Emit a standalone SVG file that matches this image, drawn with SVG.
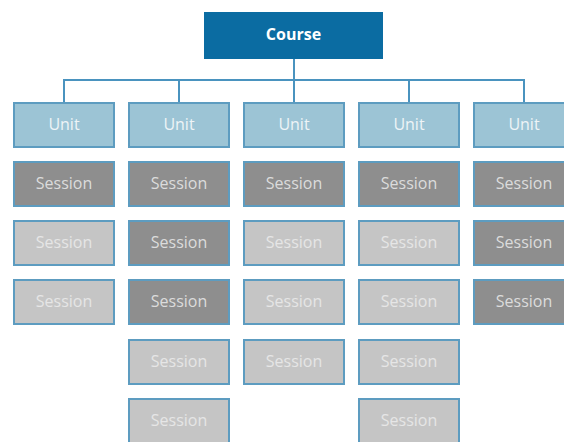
<svg xmlns="http://www.w3.org/2000/svg" width="564" height="442" viewBox="0 0 564 442">
<style>
  .box{stroke:#5d9cc0;stroke-width:2}
  .course{fill:#0b6ca2;stroke:#0b6ca2}
  .unit{fill:#9cc4d5}
  .dark{fill:#8e8e8e}
  .light{fill:#c5c5c5}
  text{font-family:"Open Sans","Liberation Sans",sans-serif;font-size:16px;text-anchor:middle;dominant-baseline:central}
  .ct{fill:#ffffff;font-weight:bold;font-size:16px}
  .ut{fill:#eef4f7}
  .dt{fill:#dcdcdc}
  .lt{fill:#e6e6e6}
  .conn{fill:none;stroke:#4a93bf;stroke-width:2}
</style>
<rect width="564" height="442" fill="#ffffff"/>
<g id="connectors">
  <path class="conn" d="M294 58V80M64 80H524M64 79V103M179 79V103M294 79V103M409 79V103M524 79V103"/>
</g>
<g id="course"><rect class="box course" x="205" y="13" width="177" height="45"/><text class="ct" x="293.5" y="34">Course</text></g>
<g id="unit1"><rect class="box unit" x="14" y="103" width="100" height="44"/><text class="ut" x="64" y="123.5">Unit</text></g>
<g id="unit2"><rect class="box unit" x="129" y="103" width="100" height="44"/><text class="ut" x="179" y="123.5">Unit</text></g>
<g id="unit3"><rect class="box unit" x="244" y="103" width="100" height="44"/><text class="ut" x="294" y="123.5">Unit</text></g>
<g id="unit4"><rect class="box unit" x="359" y="103" width="100" height="44"/><text class="ut" x="409" y="123.5">Unit</text></g>
<g id="unit5"><rect class="box unit" x="474" y="103" width="100" height="44"/><text class="ut" x="524" y="123.5">Unit</text></g>

<g id="s1-1"><rect class="box dark" x="14" y="162" width="100" height="44"/><text class="dt" x="64" y="182.5">Session</text></g>
<g id="s1-2"><rect class="box light" x="14" y="221" width="100" height="44"/><text class="lt" x="64" y="241.5">Session</text></g>
<g id="s1-3"><rect class="box light" x="14" y="280" width="100" height="44"/><text class="lt" x="64" y="300.5">Session</text></g>

<g id="s2-1"><rect class="box dark" x="129" y="162" width="100" height="44"/><text class="dt" x="179" y="182.5">Session</text></g>
<g id="s2-2"><rect class="box dark" x="129" y="221" width="100" height="44"/><text class="dt" x="179" y="241.5">Session</text></g>
<g id="s2-3"><rect class="box dark" x="129" y="280" width="100" height="44"/><text class="dt" x="179" y="300.5">Session</text></g>
<g id="s2-4"><rect class="box light" x="129" y="340" width="100" height="44"/><text class="lt" x="179" y="360.5">Session</text></g>
<g id="s2-5"><rect class="box light" x="129" y="399" width="100" height="44"/><text class="lt" x="179" y="419.5">Session</text></g>

<g id="s3-1"><rect class="box dark" x="244" y="162" width="100" height="44"/><text class="dt" x="294" y="182.5">Session</text></g>
<g id="s3-2"><rect class="box light" x="244" y="221" width="100" height="44"/><text class="lt" x="294" y="241.5">Session</text></g>
<g id="s3-3"><rect class="box light" x="244" y="280" width="100" height="44"/><text class="lt" x="294" y="300.5">Session</text></g>
<g id="s3-4"><rect class="box light" x="244" y="340" width="100" height="44"/><text class="lt" x="294" y="360.5">Session</text></g>

<g id="s4-1"><rect class="box dark" x="359" y="162" width="100" height="44"/><text class="dt" x="409" y="182.5">Session</text></g>
<g id="s4-2"><rect class="box light" x="359" y="221" width="100" height="44"/><text class="lt" x="409" y="241.5">Session</text></g>
<g id="s4-3"><rect class="box light" x="359" y="280" width="100" height="44"/><text class="lt" x="409" y="300.5">Session</text></g>
<g id="s4-4"><rect class="box light" x="359" y="340" width="100" height="44"/><text class="lt" x="409" y="360.5">Session</text></g>
<g id="s4-5"><rect class="box light" x="359" y="399" width="100" height="44"/><text class="lt" x="409" y="419.5">Session</text></g>

<g id="s5-1"><rect class="box dark" x="474" y="162" width="100" height="44"/><text class="dt" x="524" y="182.5">Session</text></g>
<g id="s5-2"><rect class="box dark" x="474" y="221" width="100" height="44"/><text class="dt" x="524" y="241.5">Session</text></g>
<g id="s5-3"><rect class="box dark" x="474" y="280" width="100" height="44"/><text class="dt" x="524" y="300.5">Session</text></g>
</svg>
